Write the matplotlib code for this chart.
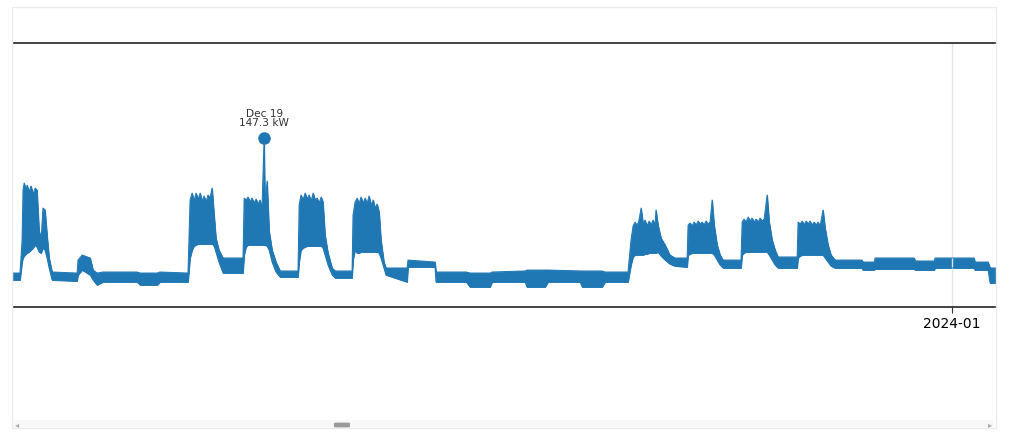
import numpy as np
import pandas as pd
import matplotlib
matplotlib.use("Agg")
import matplotlib.pyplot as plt
import matplotlib.dates as mdates
from matplotlib.patches import Rectangle, FancyBboxPatch

# hours after 2023-12-15 00:00 and the lower / upper edge of the load band (kW)
hours = [-1.75, 1.3, 2.2, 2.6, 3.1, 3.9, 4.4, 5.2, 6.1, 7.0, 7.9, 8.7, 9.6, 10.5, 11.3, 12.2, 13.1, 14.0, 15.3,
         26.2, 26.6, 28.4, 31.9, 33.2, 34.9, 37.5, 52.4, 53.7, 61.1, 62.4, 74.6,
         75.5, 76.4, 77.2, 78.1, 79.0, 79.9, 80.7, 81.6, 82.5, 83.3, 84.2, 85.1, 86.0, 86.8, 88.1, 89.9, 98.6,
         99.1, 99.9, 100.8, 101.7, 102.5, 103.4, 104.3, 105.2, 106.0, 106.9, 107.8, 108.2, 109.1, 110.0, 111.3, 113.0, 114.8, 122.6,
         123.1, 123.9, 124.8, 125.7, 126.6, 127.4, 128.3, 129.2, 130.1, 130.9, 131.8, 132.7, 133.5, 134.4, 135.7, 137.5, 138.8, 146.2,
         146.6, 147.5, 148.4, 149.2, 150.1, 151.0, 151.9, 152.7, 153.6, 154.5, 155.4, 156.2, 157.1, 158.0, 158.8, 160.1, 161.0, 170.2,
         170.6, 182.4, 182.8, 196.0, 197.7, 206.4, 207.3, 221.7, 222.5, 230.4, 231.7, 245.7, 246.6, 255.3, 256.6, 266.6,
         267.9, 268.8, 269.7, 270.5, 271.4, 272.3, 273.2, 274.0, 274.9, 275.8, 276.7, 277.5, 278.4, 278.8, 279.7, 281.0, 282.8, 284.9, 287.1, 292.4,
         292.8, 293.7, 294.6, 295.4, 296.3, 297.2, 298.0, 298.9, 299.8, 300.6, 301.5, 302.4, 303.3, 304.2, 305.5, 306.8, 308.1, 315.9,
         316.4, 317.2, 318.1, 319.0, 319.9, 320.7, 321.6, 322.5, 323.4, 324.2, 325.1, 326.0, 327.3, 328.2, 329.5, 330.8, 332.1, 340.4,
         340.8, 341.7, 342.6, 343.4, 344.3, 345.2, 346.0, 346.9, 347.8, 348.7, 349.5, 350.4, 351.7, 352.6, 353.9, 355.2, 357.0, 368.7,
         369.1, 374.0, 374.4, 391.5, 391.9, 400.2, 400.6, 417.6, 418.0, 423.7, 424.6, 427.2]
low_kw = [23.5, 23.5, 39.2, 42.7, 44.4, 46.1, 47.0, 47.9, 49.6, 51.4, 54.0, 52.3, 47.9, 47.0, 51.4, 49.6, 42.7, 34.0, 23.5,
          22.6, 27.9, 32.2, 27.9, 23.5, 19.2, 21.8, 21.8, 19.2, 19.2, 21.8, 21.8,
          42.7, 49.6, 53.1, 54.0, 54.9, 54.9, 54.9, 54.9, 54.9, 54.9, 54.9, 54.9, 53.1, 47.9, 39.2, 29.6, 29.6,
          45.3, 52.3, 54.0, 54.0, 54.0, 54.0, 54.0, 54.0, 54.0, 54.0, 54.0, 54.0, 53.1, 49.6, 39.2, 30.5, 26.1, 26.1,
          39.2, 49.6, 51.4, 52.3, 53.1, 53.1, 53.1, 53.1, 53.1, 53.1, 53.1, 53.1, 51.4, 45.3, 36.6, 27.9, 25.3, 25.3,
          40.9, 49.6, 47.0, 47.0, 47.9, 47.9, 47.9, 47.9, 47.9, 47.9, 47.9, 47.9, 47.9, 47.0, 42.7, 34.0, 27.9, 21.8,
          34.8, 34.8, 21.8, 21.8, 17.4, 17.4, 21.8, 21.8, 17.4, 17.4, 21.8, 21.8, 17.4, 17.4, 21.8, 21.8,
          36.6, 43.6, 45.3, 45.3, 45.3, 45.3, 45.3, 46.1, 46.1, 47.0, 47.0, 47.0, 47.0, 47.0, 47.9, 44.4, 40.9, 37.5, 35.7, 34.8,
          45.3, 46.1, 47.0, 47.0, 47.0, 47.0, 47.0, 47.0, 47.0, 47.0, 47.0, 47.0, 47.0, 45.3, 40.9, 36.6, 34.0, 34.0,
          45.3, 47.0, 47.9, 47.9, 47.9, 47.9, 47.9, 47.9, 47.9, 47.9, 47.9, 47.9, 47.9, 45.3, 40.9, 36.6, 34.0, 34.0,
          42.7, 44.4, 45.3, 45.3, 45.3, 45.3, 45.3, 45.3, 45.3, 45.3, 45.3, 45.3, 45.3, 42.7, 39.2, 35.7, 34.0, 34.0,
          32.2, 32.2, 33.1, 33.1, 32.2, 32.2, 34.0, 34.0, 32.2, 32.2, 20.9, 20.9]
high_kw = [29.6, 29.6, 58.4, 101.9, 108.0, 101.9, 106.2, 100.2, 105.4, 98.4, 103.6, 101.9, 67.1, 58.4, 86.2, 84.5, 62.7, 42.7, 30.5,
           29.6, 40.9, 45.3, 42.7, 32.2, 29.6, 30.5, 30.5, 29.6, 29.6, 30.5, 29.6,
           93.2, 99.3, 92.3, 99.3, 94.0, 99.3, 92.3, 96.7, 91.5, 97.6, 94.9, 103.6, 80.1, 60.1, 49.6, 42.7, 42.7,
           94.9, 93.2, 95.8, 91.5, 94.9, 90.6, 94.0, 89.7, 93.2, 86.2, 147.3, 88.8, 109.7, 66.2, 49.6, 39.2, 31.4, 31.4,
           88.8, 97.6, 93.2, 99.3, 94.0, 97.6, 92.3, 99.3, 93.2, 94.9, 90.6, 95.8, 91.5, 62.7, 47.0, 34.0, 31.4, 31.4,
           80.1, 91.5, 94.9, 89.7, 95.8, 90.6, 94.9, 89.7, 96.7, 88.8, 93.2, 86.2, 89.7, 82.7, 58.4, 39.2, 34.0, 34.0,
           40.9, 39.2, 30.5, 30.5, 29.6, 29.6, 30.5, 31.4, 32.2, 32.2, 32.2, 31.4, 31.4, 31.4, 30.5, 30.5,
           58.4, 70.6, 74.0, 70.6, 75.8, 86.2, 72.3, 75.8, 70.6, 74.9, 71.4, 75.8, 71.4, 84.5, 71.4, 60.1, 54.0, 45.3, 42.7, 42.7,
           71.4, 73.2, 70.6, 74.0, 71.4, 74.9, 72.3, 74.0, 71.4, 74.9, 72.3, 74.0, 93.2, 71.4, 54.0, 45.3, 40.9, 40.9,
           74.0, 76.6, 74.0, 78.4, 74.9, 77.5, 74.0, 76.6, 74.0, 77.5, 74.9, 76.6, 97.6, 74.0, 58.4, 49.6, 43.6, 43.6,
           74.0, 72.3, 74.9, 71.4, 74.9, 72.3, 74.9, 71.4, 74.0, 71.4, 74.0, 70.6, 84.5, 68.8, 54.0, 45.3, 40.9, 40.9,
           39.2, 39.2, 42.7, 42.7, 40.1, 40.1, 42.7, 42.7, 39.2, 39.2, 34.0, 34.0]

peak_label = "Dec 19"
peak_kw = 147.3

times = pd.Timestamp("2023-12-15") + pd.to_timedelta(hours, unit="h")
peak_time = times[int(np.argmax(high_kw))]

blue = "#1f77b4"

fig = plt.figure(figsize=(10.24, 4.43), dpi=100)
ax = fig.add_axes([0.0127, 0.307, 0.9600, 0.596])

ax.fill_between(times, low_kw, high_kw, color=blue, lw=0.6, edgecolor=blue)
ax.plot(times, high_kw, color=blue, lw=0.7)
ax.plot(times, low_kw, color=blue, lw=0.7)
ax.plot([peak_time], [peak_kw], "o", color=blue, ms=8)
ax.annotate(peak_label + "\n" + f"{peak_kw} kW", (peak_time, peak_kw),
            xytext=(0, 7), textcoords="offset points", ha="center", va="bottom",
            fontsize=7.6, color="#333333", linespacing=0.95)

ax.set_xlim(times[0], times[-1])
ax.set_ylim(0, 230)
ax.xaxis.set_major_locator(mdates.MonthLocator())
ax.xaxis.set_major_formatter(mdates.DateFormatter("%Y-%m"))
ax.set_yticks([])
ax.grid(axis="x", color="#dce6ec", lw=1)
ax.tick_params(axis="x", labelsize=10, length=4, width=0.8, color="#333333")
for side in ["left", "right"]:
    ax.spines[side].set_visible(False)
for side in ["top", "bottom"]:
    ax.spines[side].set_color("#222222")
    ax.spines[side].set_linewidth(1.2)

# frame of the widget and the scroll bar
fig.patches.append(Rectangle((12 / 1024, 1 - 428 / 443), 984 / 1024, 421 / 443,
                             transform=fig.transFigure, fill=False,
                             edgecolor="#ebebeb", lw=1))
fig.patches.append(Rectangle((14 / 1024, 1 - 428 / 443), 980 / 1024, 8 / 443,
                             transform=fig.transFigure, color="#f8f8f8", lw=0))
fig.patches.append(FancyBboxPatch((336 / 1024, 1 - 426.5 / 443), 12 / 1024, 3 / 443,
                                  boxstyle="round,pad=0.002",
                                  transform=fig.transFigure, color="#9a9a9a", lw=0))
fig.text(17 / 1024, 1 - 424.5 / 443, "◂", fontsize=6, color="#aaaaaa", ha="center", va="center")
fig.text(990 / 1024, 1 - 424.5 / 443, "▸", fontsize=6, color="#aaaaaa", ha="center", va="center")

fig.savefig("out.png", dpi=100)
